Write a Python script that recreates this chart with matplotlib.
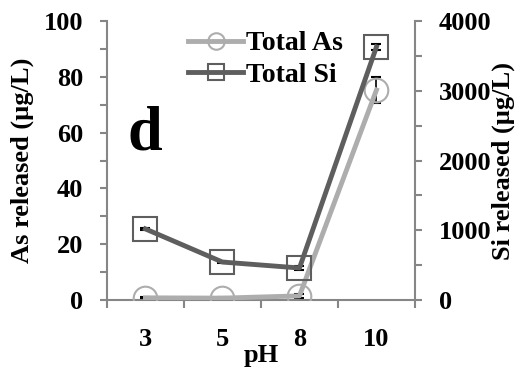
import numpy as np
import matplotlib
matplotlib.use("Agg")
import matplotlib.pyplot as plt
from matplotlib.ticker import MultipleLocator, FixedLocator

plt.rcParams['font.family'] = ['Liberation Serif', 'DejaVu Serif']
plt.rcParams['font.weight'] = 'bold'

# pH 별 용출량
ph_labels = ['3', '5', '8', '10']
as_released = [0.8, 0.7, 1.5, 75.3]      # µg/L
as_err = [0.3, 0.3, 0.8, 4.7]
si_released = [1020, 545, 460, 3630]     # µg/L
si_err = [20, 20, 30, 40]

axis_gray = '#868686'
as_color = '#ADADAD'
si_color = '#5E5E5E'
fs = 19

fig = plt.figure(figsize=(5.32, 3.70), dpi=100)
ax = fig.add_axes([0.201, 0.189, 0.579, 0.754])
ax2 = ax.twinx()

x = np.arange(len(ph_labels))

ax.errorbar(x, as_released, yerr=as_err, fmt='none', ecolor='black',
            elinewidth=1.2, capsize=3.5, capthick=1.5, zorder=2)
l1, = ax.plot(x, as_released, color=as_color, lw=3.5, marker='o', ms=17,
              mfc='none', mec=as_color, mew=1.5, label='Total As', zorder=3)

ax2.errorbar(x, si_released, yerr=si_err, fmt='none', ecolor='black',
             elinewidth=1.2, capsize=3.5, capthick=1.5, zorder=2)
l2, = ax2.plot(x, si_released, color=si_color, lw=3.5, marker='s', ms=17,
               mfc='none', mec=si_color, mew=1.5, label='Total Si', zorder=3)

ax.set_xlim(-0.5, 3.5)
ax.set_ylim(0, 100)
ax2.set_ylim(0, 4000)

for a in (ax, ax2):
    a.spines['top'].set_visible(False)
    for s in a.spines.values():
        s.set_color(axis_gray)
        s.set_linewidth(1.5)
ax.spines['right'].set_visible(False)
ax2.spines['left'].set_visible(False)
ax2.spines['bottom'].set_visible(False)

# 범주형 x축: 라벨은 가운데, 눈금은 범주 경계에
ax.set_xticks(x)
ax.set_xticklabels(ph_labels)
ax.xaxis.set_minor_locator(FixedLocator(np.arange(-0.5, 4.0, 1.0)))
ax.tick_params(axis='x', which='major', length=0, pad=20, labelsize=fs)
ax.tick_params(axis='x', which='minor', length=6, width=1.5, color=axis_gray,
               direction='out')

ax.yaxis.set_major_locator(MultipleLocator(20))
ax.yaxis.set_minor_locator(MultipleLocator(10))
ax.tick_params(axis='y', which='both', length=5, width=1.5, color=axis_gray,
               direction='out', labelsize=fs, pad=12)
ax2.yaxis.set_major_locator(MultipleLocator(1000))
ax2.yaxis.set_minor_locator(MultipleLocator(500))
ax2.tick_params(axis='y', which='both', length=5, width=1.5, color=axis_gray,
                direction='out', labelsize=fs, pad=12)

ax.set_ylabel('As released (µg/L)', fontsize=fs, fontweight='bold', labelpad=7)
ax2.set_ylabel('Si released (µg/L)', fontsize=fs, fontweight='bold', labelpad=0)
ax.text(0.50, -0.197, 'pH', transform=ax.transAxes, fontsize=fs,
        fontweight='bold', ha='center', va='center')

ax.text(0.068, 0.538, 'd', transform=ax.transAxes, fontsize=45,
        fontweight='bold', va='baseline', ha='left')

ax.legend(handles=[l1, l2], loc='upper left', bbox_to_anchor=(0.263, 0.965),
          frameon=False, fontsize=20, handlelength=2.0, handletextpad=0.1,
          labelspacing=0.22, markerscale=0.7, borderpad=0, borderaxespad=0)

fig.savefig('out.png', dpi=100)
